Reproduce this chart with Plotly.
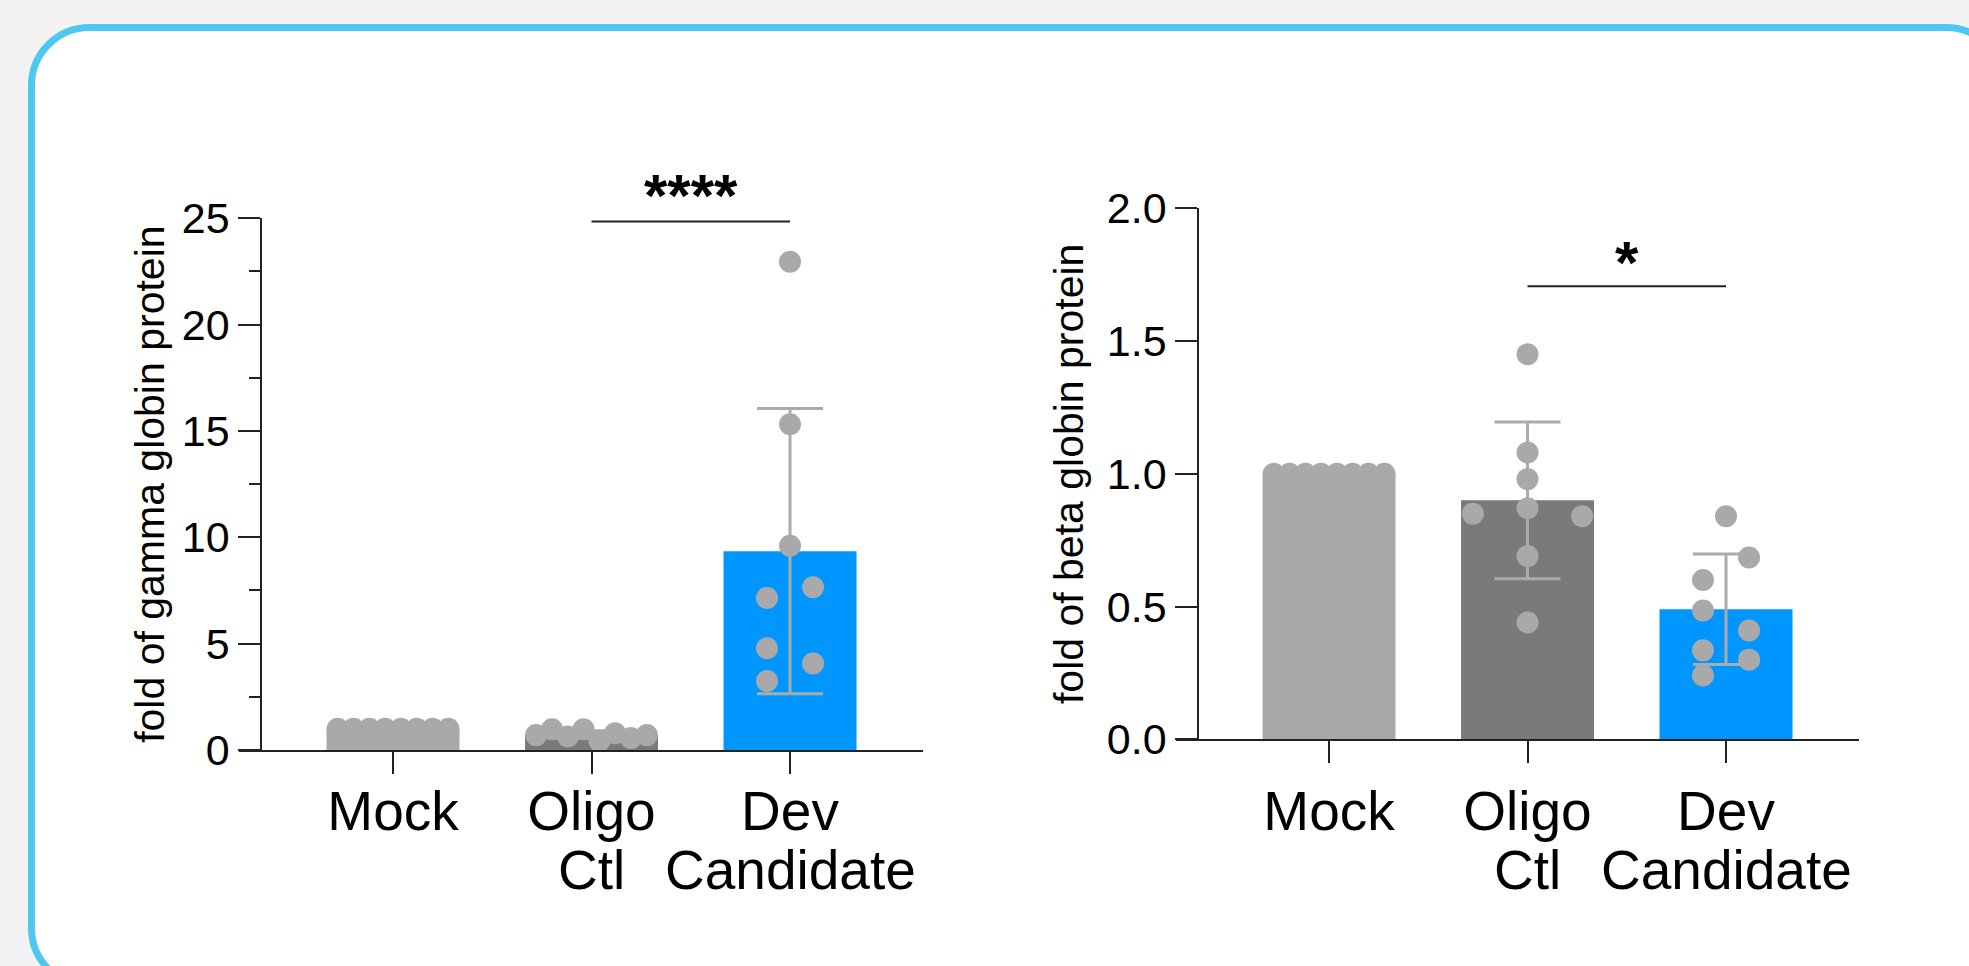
import plotly.graph_objects as go

# ---------------- data ----------------
categories_line1 = ["Mock", "Oligo", "Dev"]
categories_line2 = ["", "Ctl", "Candidate"]

gamma_means = [1.0, 0.72, 9.35]
gamma_sd = [0.0, 0.18, 6.71]
gamma_mock_pts = [1.0, 1.0, 1.0, 1.0, 1.0, 1.0, 1.0, 1.0]
gamma_oligo_pts = [0.70, 0.97, 0.64, 0.97, 0.42, 0.79, 0.57, 0.70]
gamma_dev_pts = [22.96, 15.32, 9.60, 7.65, 7.15, 4.78, 4.07, 3.24]

beta_means = [1.0, 0.90, 0.49]
beta_sd = [0.0, 0.295, 0.208]
beta_mock_pts = [1.0, 1.0, 1.0, 1.0, 1.0, 1.0, 1.0, 1.0]
beta_oligo_pts = [1.45, 1.08, 0.98, 0.87, 0.85, 0.84, 0.69, 0.44]
beta_dev_pts = [0.84, 0.685, 0.60, 0.485, 0.41, 0.335, 0.30, 0.24]

gamma_sig = {"x0": 1, "x1": 2, "y": 24.85, "label": "****", "label_y": 26.05}
beta_sig = {"x0": 1, "x1": 2, "y": 1.706, "label": "*", "label_y": 1.795}

gamma_ticks = [0, 5, 10, 15, 20, 25]
beta_ticks = [0.0, 0.5, 1.0, 1.5, 2.0]
gamma_range = [0, 25]
beta_range = [0, 2]

# ---------------- layout / style ----------------
# swarm offsets of points (category units)
swarm_even = [-0.279, -0.199, -0.119, -0.040, 0.040, 0.119, 0.199, 0.279]
gamma_dev_off = [0, 0, 0, 0.116, -0.116, -0.116, 0.116, -0.116]
beta_oligo_off = [0, 0, 0, 0, -0.275, 0.275, 0, 0]
beta_dev_off = [0, 0.116, -0.116, -0.116, 0.116, -0.116, 0.116, -0.116]

W, H = 1969, 966
bar_colors = ["#a9a9a9", "#7a7a7a", "#0096ff"]
dot_color = "#a9a9a9"
err_color = "#ababab"
axis_color = "#222222"
FONT = "Liberation Sans, Arial, sans-serif"


def px(x):
    return x / W


def py(y):
    return 1 - y / H


fig = go.Figure()


def add_panel(xa, ya, means, sds, groups, offsets):
    fig.add_trace(go.Bar(
        x=[0, 1, 2], y=means, width=0.67,
        marker=dict(color=bar_colors, line=dict(width=0)),
        error_y=dict(type="data", array=sds, visible=True, color=err_color,
                     thickness=3, width=33),
        xaxis=xa, yaxis=ya, showlegend=False, hoverinfo="skip"))
    for gi, (pts, off) in enumerate(zip(groups, offsets)):
        fig.add_trace(go.Scatter(
            x=[gi + o for o in off], y=pts, mode="markers",
            marker=dict(size=22, color=dot_color, line=dict(width=0)),
            xaxis=xa, yaxis=ya, showlegend=False, cliponaxis=False,
            hoverinfo="skip"))


add_panel("x", "y", gamma_means, gamma_sd,
          [gamma_mock_pts, gamma_oligo_pts, gamma_dev_pts],
          [swarm_even, swarm_even, gamma_dev_off])
add_panel("x2", "y2", beta_means, beta_sd,
          [beta_mock_pts, beta_oligo_pts, beta_dev_pts],
          [swarm_even, beta_oligo_off, beta_dev_off])

xcommon = dict(tickvals=[0, 1, 2], ticktext=categories_line1, ticks="outside",
               ticklen=22, tickwidth=1.5, tickcolor=axis_color, showline=True,
               linecolor=axis_color, linewidth=1.5, showgrid=False,
               zeroline=False, tickfont=dict(family=FONT, size=55, color="black"),
               fixedrange=True, automargin=False)
ycommon = dict(ticks="outside", ticklen=22, tickwidth=1.5, tickcolor=axis_color,
               showline=True, linecolor=axis_color, linewidth=1.5,
               showgrid=False, zeroline=False, anchor="free",
               tickfont=dict(family=FONT, size=43, color="black"),
               fixedrange=True, automargin=False)

gamma_dom = [py(750), py(218.3)]
beta_dom = [py(739.3), py(208.3)]

fig.update_layout(
    width=W, height=H, autosize=False,
    margin=dict(l=0, r=0, t=0, b=0, pad=0, autoexpand=False),
    paper_bgcolor="#f2f2f2", plot_bgcolor="rgba(0,0,0,0)",
    font=dict(family=FONT, color="black"),
    xaxis=dict(domain=[px(239), px(923)], range=[-0.776, 2.670], anchor="y",
               ticklabelstandoff=-10, **xcommon),
    yaxis=dict(domain=gamma_dom, range=gamma_range, position=px(261),
               tickvals=gamma_ticks,
               minor=dict(dtick=2.5, ticks="outside", ticklen=11, tickwidth=1.5,
                          tickcolor=axis_color),
               title=dict(text="fold of gamma globin protein",
                          font=dict(family=FONT, size=41, color="black"),
                          standoff=3),
               **ycommon),
    xaxis2=dict(domain=[px(1176), px(1859)], range=[-0.771, 2.670], anchor="y2",
                ticklabelstandoff=1, **xcommon),
    yaxis2=dict(domain=beta_dom, range=beta_range, position=px(1198),
                tickvals=beta_ticks, tickformat=".1f",
                title=dict(text="fold of beta globin protein",
                           font=dict(family=FONT, size=41, color="black"),
                           standoff=10),
                **ycommon),
)

# card background with rounded corners (pixel geometry converted to paper)
def rounded_rect(x0, y0, x1, y1, r):
    k = 0.5523 * r
    pts = [
        ("M", [(x0 + r, y0)]),
        ("L", [(x1 - r, y0)]),
        ("C", [(x1 - r + k, y0), (x1, y0 + r - k), (x1, y0 + r)]),
        ("L", [(x1, y1 - r)]),
        ("C", [(x1, y1 - r + k), (x1 - r + k, y1), (x1 - r, y1)]),
        ("L", [(x0 + r, y1)]),
        ("C", [(x0 + r - k, y1), (x0, y1 - r + k), (x0, y1 - r)]),
        ("L", [(x0, y0 + r)]),
        ("C", [(x0, y0 + r - k), (x0 + r - k, y0), (x0 + r, y0)]),
    ]
    s = ""
    for cmd, p in pts:
        s += cmd + " " + " ".join(f"{px(a):.6f},{py(b):.6f}" for a, b in p) + " "
    return s + "Z"


fig.add_shape(type="path", path=rounded_rect(31.5, 27.5, 2004, 986, 58),
              xref="paper", yref="paper", fillcolor="white",
              line=dict(color="#4ec8f0", width=7), layer="below")


def to_paper(v, rng, dom):
    return dom[0] + (v - rng[0]) / (rng[1] - rng[0]) * (dom[1] - dom[0])


# significance bars
for sig, xa, ya, rng, dom in [(gamma_sig, "x", "y", gamma_range, gamma_dom),
                              (beta_sig, "x2", "y2", beta_range, beta_dom)]:
    fig.add_shape(type="line", x0=sig["x0"], x1=sig["x1"], y0=sig["y"],
                  y1=sig["y"], xref=xa, yref=ya,
                  line=dict(color=axis_color, width=2))
    fig.add_annotation(x=(sig["x0"] + sig["x1"]) / 2,
                       y=to_paper(sig["label_y"], rng, dom),
                       xref=xa, yref="paper", text="<b>" + sig["label"] + "</b>",
                       showarrow=False, yanchor="middle",
                       font=dict(family=FONT, size=60, color="black"))

# second line of category labels
for xa in ["x", "x2"]:
    for i, t in enumerate(categories_line2):
        if t:
            fig.add_annotation(x=i, y=py(869.5), xref=xa, yref="paper",
                               text=t, showarrow=False, yanchor="middle",
                               font=dict(family=FONT, size=55, color="black"))

fig.write_html("out.html", config={"displayModeBar": False},
               post_script="document.body.style.margin='0';"
                           "document.body.style.overflow='hidden';")
